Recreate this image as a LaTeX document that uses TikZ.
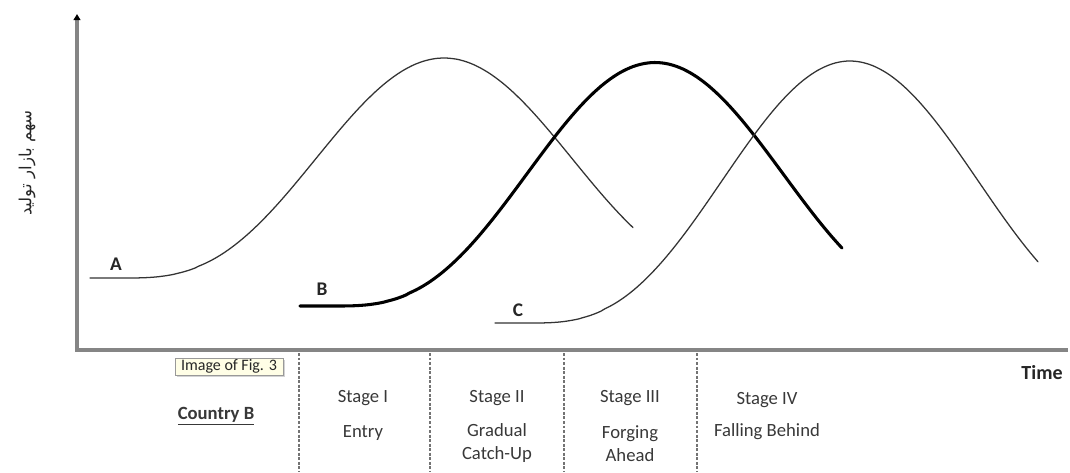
\documentclass[tikz,border=0pt]{standalone}
\usepackage{fontspec}
\setmainfont{Carlito}
\newfontfamily\arabicfont[Script=Arabic]{DejaVu Sans}
\TeXXeTstate=1
\usetikzlibrary{arrows.meta,shadows}
\begin{document}
\begin{tikzpicture}[x=0.75pt,y=-0.75pt,
  axisline/.style={draw=black!48, line width=2.6pt, line join=miter},
  thincurve/.style={draw=black!80, line width=0.95pt, line cap=round},
  thickcurve/.style={draw=black, line width=2.3pt, line cap=round},
  curvelbl/.style={font=\bfseries\fontsize{14.5}{16}\selectfont, text=black!85},
  lbl/.style={font=\fontsize{14}{17.25}\selectfont, text=black!78, align=center, inner sep=0pt},
  divider/.style={draw=black!55, line width=0.8pt, dash pattern=on 2.2pt off 1.2pt},
  tipbox/.style={draw=black!40, fill=yellow!10, line width=0.5pt, font=\fontsize{12}{13}\selectfont,
    text=black!85, inner sep=0.8pt, minimum width=81pt, minimum height=12.75pt,
    drop shadow={shadow xshift=1.2pt, shadow yshift=-1.2pt, opacity=0.35}}]
\useasboundingbox (0,0) rectangle (1070,472);

% axes
\coordinate (top) at (77,14);
\coordinate (O) at (77,350);
\coordinate (xend) at (1068,350);
\draw[axisline, {Triangle[width=5pt,length=4.5pt,color=black]}-] (top) -- (O) -- (xend);

% y-axis label
\node[rotate=90, font=\arabicfont\fontsize{12.5}{14}\selectfont, text=black!85] (ylab) at (27,163) {\beginR سهم بازار تولید\endR};

% curve A
\draw[thincurve] (90,278) -- (130,278) -- plot[domain=130:633, samples=140] (\x, {278-220*pow(0.5*(1+cos(0.5625*(\x-444))),1.44)});
% curve B (thick)
\draw[thickcurve] (300,306) -- (341,306) -- plot[domain=341:842, samples=140] (\x, {306-243.5*pow(0.5*(1+cos(0.5625*(\x-655))),1.44)});
% curve C
\draw[thincurve] (495,323) -- (536,323) -- plot[domain=536:1038, samples=140] (\x, {323-262*pow(0.5*(1+cos(0.5625*(\x-850))),1.44)});

\node[curvelbl] (lA) at (116,264) {A};
\node[curvelbl] (lB) at (322,289) {B};
\node[curvelbl] (lC) at (518,310) {C};

% dividers
\foreach \x in {299,430,564,697} \draw[divider] (\x,353) -- (\x,472);

% tooltip
\node[tipbox] (tip) at (229,366.5) {Image of Fig. 3};

% bottom labels
\node[lbl, font=\bfseries\fontsize{14}{16}\selectfont] (country) at (216,416) {\underline{Country B}};
\node[lbl] (s1) at (363,398) {Stage I};
\node[lbl] (e1) at (363,433) {Entry};
\node[lbl] (s2) at (497,398) {Stage II};
\node[lbl] (e2) at (497,443.5) {Gradual\\Catch-Up};
\node[lbl] (s3) at (630,398) {Stage III};
\node[lbl] (e3) at (630,443.5) {Forging\\Ahead};
\node[lbl] (s4) at (767,400) {Stage IV};
\node[lbl] (e4) at (767,432) {Falling Behind};
\node[lbl, font=\bfseries\fontsize{15}{16}\selectfont, text=black!85] (time) at (1042,373) {Time};
\end{tikzpicture}
\end{document}
